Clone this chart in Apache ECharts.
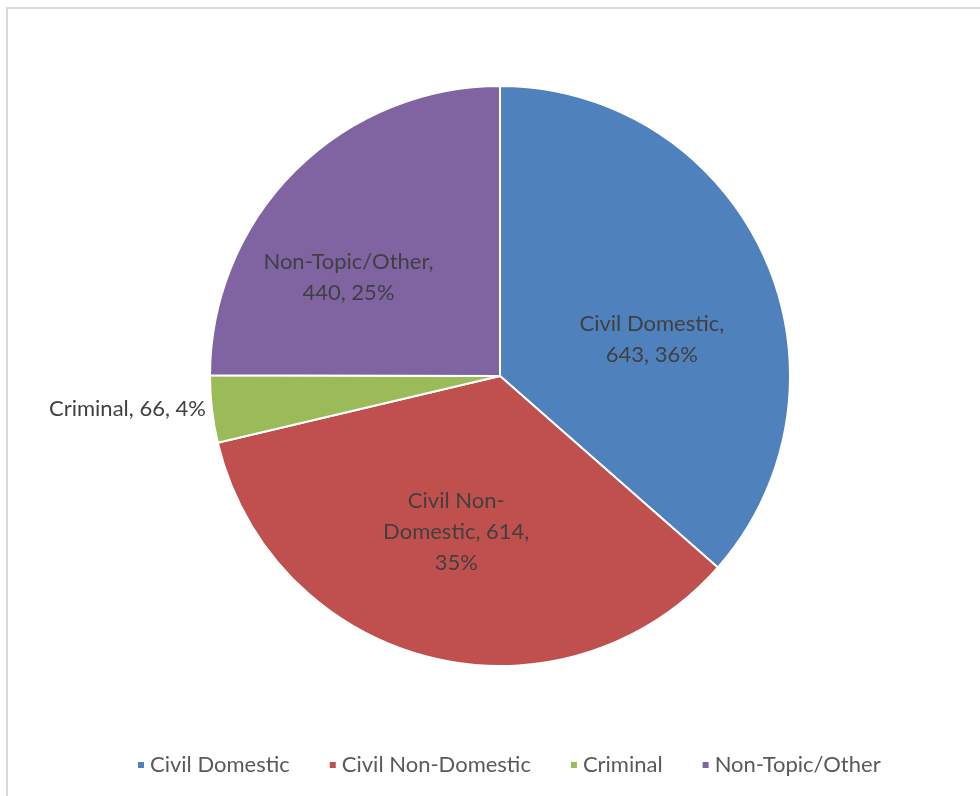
<!DOCTYPE html>
<html>
<head>
<meta charset="utf-8">
<script src="https://cdn.jsdelivr.net/npm/echarts@6/dist/echarts.min.js"></script>
<style>
  html, body { margin: 0; padding: 0; background: #fff; }
  #frame { position: absolute; left: 6px; top: 7px; width: 1000px; height: 820px;
           border-left: 2px solid #d9d9d9; border-top: 2px solid #d9d9d9; pointer-events: none; }
  #chart { position: absolute; left: 0; top: 0; width: 980px; height: 796px; }
</style>
</head>
<body>
<div id="chart"></div>
<div id="frame"></div>
<script>
var categories = ['Civil Domestic', 'Civil Non-Domestic', 'Criminal', 'Non-Topic/Other'];
var counts = [643, 614, 66, 440];
var colors = ['#4f81bd', '#c0504d', '#9bbb59', '#8064a2'];
// how excel wrapped each data label
var labelTemplates = [
    '{b},\n{c}, {d}%',
    'Civil Non-\nDomestic, {c},\n{d}%',
    '{b}, {c}, {d}%',
    '{b},\n{c}, {d}%'
];

var pieData = [];
for (var i = 0; i < categories.length; i++) {
    var item = { name: categories[i], value: counts[i] };
    if (i === 2) {
        item.label = { position: 'outside' };
        item.labelLine = { show: false, length: 1, length2: 0 };
    }
    pieData.push(item);
}

var chart = echarts.init(document.getElementById('chart'));
chart.setOption({
    color: colors,
    animation: false,
    legend: {
        data: categories,
        bottom: 15,
        left: 131,
        icon: 'rect',
        itemWidth: 8,
        itemHeight: 8,
        itemGap: 38,
        textStyle: { color: '#595959', fontSize: 22, fontFamily: 'Lato' }
    },
    series: [{
        type: 'pie',
        center: [500, 376],
        radius: 290,
        startAngle: 90,
        clockwise: true,
        percentPrecision: 0,
        itemStyle: { borderColor: '#fff', borderWidth: 2 },
        label: {
            position: 'inside',
            color: '#404040',
            fontSize: 22,
            lineHeight: 31,
            fontFamily: 'Lato',
            formatter: function (p) {
                return labelTemplates[p.dataIndex]
                    .replace('{b}', p.name)
                    .replace('{c}', p.value)
                    .replace('{d}', p.percent);
            }
        },
        labelLayout: function (p) {
            if (p.dataIndex === 0) return { dx: 17, dy: 24 };
            if (p.dataIndex === 1) return { dx: -8, dy: 12 };
            if (p.dataIndex === 3) return { dx: -47, dy: 6 };
            return {};
        },
        data: pieData
    }]
});
</script>
</body>
</html>
